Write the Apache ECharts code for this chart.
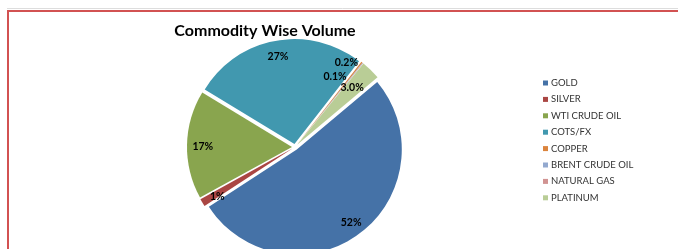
<!DOCTYPE html>
<html>
<head>
<meta charset="utf-8">
<script src="https://cdn.jsdelivr.net/npm/echarts@6/dist/echarts.min.js"></script>
<style>
html,body{margin:0;padding:0;background:#fff;}
#chart{width:678px;height:249px;}
</style>
</head>
<body>
<div id="chart"></div>
<script>
const categories = ['GOLD', 'SILVER', 'WTI CRUDE OIL', 'COTS/FX', 'COPPER', 'BRENT CRUDE OIL', 'NATURAL GAS', 'PLATINUM'];
const values = [51.9, 1.2, 16.7, 26.85, 0.2, 0.1, 0.05, 3.0];
const pctLabels = ['52%', '1%', '17%', '27%', '0.2%', '0.1%', '', '3.0%'];
const colors = ['#4572A7', '#AA4643', '#89A54E', '#4198AF', '#DB843D', '#93A9CF', '#D19392', '#B9CD96'];

// label nudges for the crowded thin slices (style only)
const labelNudge = { 'GOLD': [0, 0], 'SILVER': [3, 1], 'WTI CRUDE OIL': [2, 2], 'COTS/FX': [0, 2],
  'COPPER': [-7, -10], 'BRENT CRUDE OIL': [-19, 3], 'PLATINUM': [-9, 8] };

const FONT = 'Lato, "Open Sans", sans-serif';
const CENTER = [295, 147];
const R = 105;
const START = 40;
const OFFSET = 3;

const pieData = categories.map((c, i) => ({
  name: c, value: values[i], selected: true,
  itemStyle: { color: colors[i] }
}));

const labelData = categories.map((c, i) => ({
  name: c, value: values[i], selected: true,
  itemStyle: { color: 'rgba(0,0,0,0)' },
  label: { show: pctLabels[i] !== '', formatter: pctLabels[i] }
}));

const chart = echarts.init(document.getElementById('chart'), null, { renderer: 'canvas' });
chart.setOption({
  animation: false,
  backgroundColor: '#fff',
  title: {
    text: 'Commodity Wise Volume',
    left: 260, top: 18, textAlign: 'center',
    textStyle: { fontFamily: FONT, fontWeight: 'bold', fontSize: 16, color: '#000' }
  },
  legend: {
    orient: 'vertical',
    left: 543, top: 77,
    padding: 0,
    icon: 'rect',
    itemWidth: 5, itemHeight: 5,
    itemGap: 4.4,
    data: categories,
    selectedMode: false,
    textStyle: { fontFamily: FONT, fontSize: 9.5, color: '#333', lineHeight: 12, padding: [0, 0, 0, -2] }
  },
  graphic: [
    { type: 'line', shape: { x1: 7, y1: 8.5, x2: 678, y2: 8.5 }, style: { stroke: '#dddddd', lineWidth: 1 }, silent: true },
    { type: 'rect', shape: { x: 8, y: 11, width: 700, height: 300 }, style: { fill: 'none', stroke: '#d25252', lineWidth: 2 }, silent: true }
  ],
  series: [
    {
      type: 'pie',
      center: CENTER,
      radius: [0, R],
      startAngle: START,
      clockwise: true,
      selectedMode: 'multiple',
      selectedOffset: OFFSET,
      avoidLabelOverlap: false,
      silent: true,
      label: { show: false },
      labelLine: { show: false },
      itemStyle: { borderWidth: 0 },
      select: { itemStyle: { borderWidth: 0 } },
      data: pieData
    },
    {
      type: 'pie',
      center: CENTER,
      radius: [R * 0.68, R],
      startAngle: START,
      clockwise: true,
      selectedMode: 'multiple',
      selectedOffset: OFFSET,
      avoidLabelOverlap: false,
      silent: true,
      legendHoverLink: false,
      labelLine: { show: false },
      label: {
        position: 'inside',
        fontFamily: FONT, fontWeight: 'bold', fontSize: 10.5, color: '#000',
        textBorderWidth: 0
      },
      labelLayout: function (p) {
        const n = labelNudge[categories[p.dataIndex]] || [0, 0];
        return { hideOverlap: false, dx: n[0], dy: n[1] };
      },
      data: labelData
    }
  ]
});
</script>
</body>
</html>
